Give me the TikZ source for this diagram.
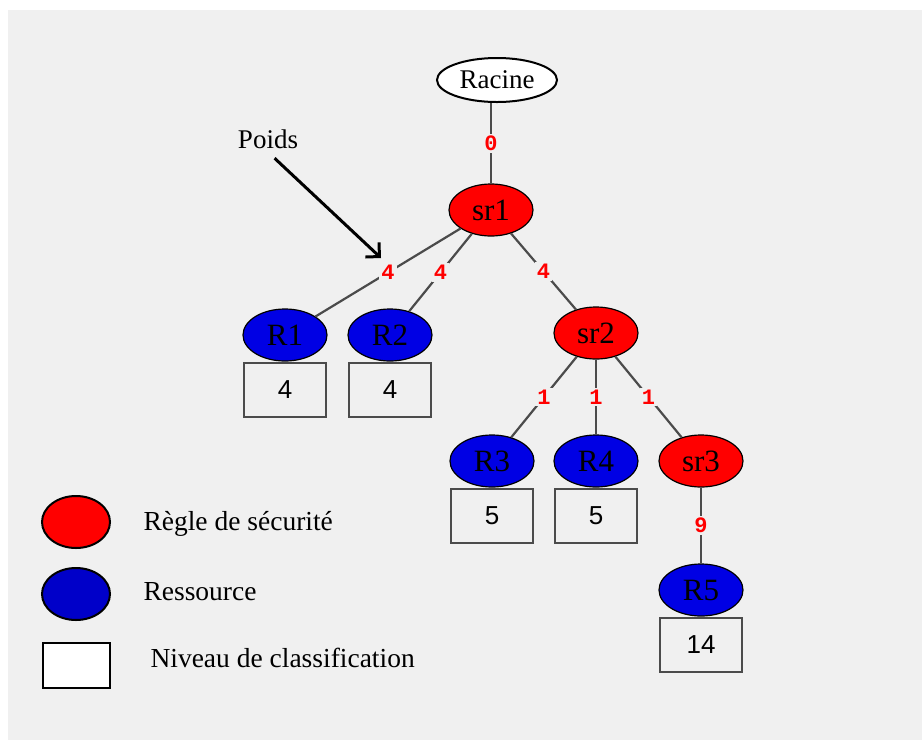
\documentclass[tikz,border=0pt]{standalone}
\usepackage{fontspec}
\setmainfont{Liberation Serif}
\newfontfamily\boxfont{Liberation Sans}
\newfontfamily\weightfont{Liberation Mono}
\usetikzlibrary{arrows.meta,positioning,shapes.geometric}

\definecolor{bg}{RGB}{240,240,240}
\definecolor{rulered}{RGB}{255,0,0}
\definecolor{resblue}{RGB}{0,0,228}
\definecolor{edgegray}{RGB}{75,75,75}

\begin{document}
\begin{tikzpicture}[
        x=1pt,
        y=-1pt,
        rule/.style={ellipse, draw=black, line width=1.2pt, fill=rulered, inner sep=0pt,
            minimum width=84pt, minimum height=52pt, font=\fontsize{31}{33}\selectfont},
        res/.style={rule, fill=resblue},
        level/.style={draw=edgegray, line width=2pt, fill=bg, inner sep=0pt,
            minimum width=82pt, minimum height=54pt, font=\boxfont\fontsize{26}{28}\selectfont},
        link/.style={draw=edgegray, line width=2.2pt},
        weight/.style={fill=bg, text=rulered, inner sep=2pt, font=\weightfont\bfseries\fontsize{22}{24}\selectfont},
        keytext/.style={anchor=west, font=\fontsize{27.5}{29}\selectfont},
        pointer/.style={line width=3pt, -{Straight Barb[length=10pt, width=20pt, line width=3pt]}}
    ]
        \useasboundingbox (0,0) rectangle (922,740);
        \fill[white] (0,0) rectangle (922,740);
        \fill[bg] (8,10) rectangle (922,740);

        % tree
        \node[ellipse, draw=black, line width=2pt, fill=white, minimum width=120pt, minimum height=44pt,
            inner sep=0pt, font=\fontsize{27}{29}\selectfont] (racine) at (497,80) {Racine};
        \node[rule] (sr1) at (491,210) {sr1};
        \node[rule] (sr2) at (596,333) {sr2};
        \node[rule] (sr3) at (701,461) {sr3};
        \foreach \n/\x/\y in {1/285/335, 2/390/335, 3/492/461, 4/596/461, 5/701/590}{
            \node[res] (r\n) at (\x,\y) {R\n};
        }
        \foreach \n/\lvl in {1/4, 2/4, 3/5, 4/5, 5/14}{
            \node[level, below=0pt of r\n] (n\n) {\lvl};
        }

        \draw[link] (racine.south -| sr1.north) -- node[weight] {0} (sr1.north);
        \draw[link] (sr1) -- node[weight] {4} (r1);
        \draw[link] (sr1) -- node[weight] {4} (r2);
        \draw[link] (sr1) -- node[weight] {4} (sr2);
        \foreach \c in {r3, r4, sr3}{
            \draw[link] (sr2) -- node[weight] {1} (\c);
        }
        \draw[link] (sr3) -- node[weight] {9} (r5);

        % weight pointer
        \node[font=\fontsize{27}{29}\selectfont] (poids) at (268,139) {Poids};
        \coordinate (tip) at (381,258);
        \draw[pointer, shorten <=9pt] (poids.south) -- (tip);

        % legend
        \node[ellipse, draw=black, line width=2pt, fill=rulered, minimum width=68pt, minimum height=52pt] (keyrule) at (76,522) {};
        \node[ellipse, draw=black, line width=2pt, fill=resblue!88!black, minimum width=68pt, minimum height=52pt] (keyres) at (76,594) {};
        \node[draw=black, line width=2pt, fill=white, minimum width=67pt, minimum height=45pt] (keylevel) at (76,665) {};
        \node[keytext] at (140,524) {Règle de sécurité};
        \node[keytext] at (140,592) {Ressource};
        \node[keytext] at (147,658) {Niveau de classification};
\end{tikzpicture}
\end{document}
